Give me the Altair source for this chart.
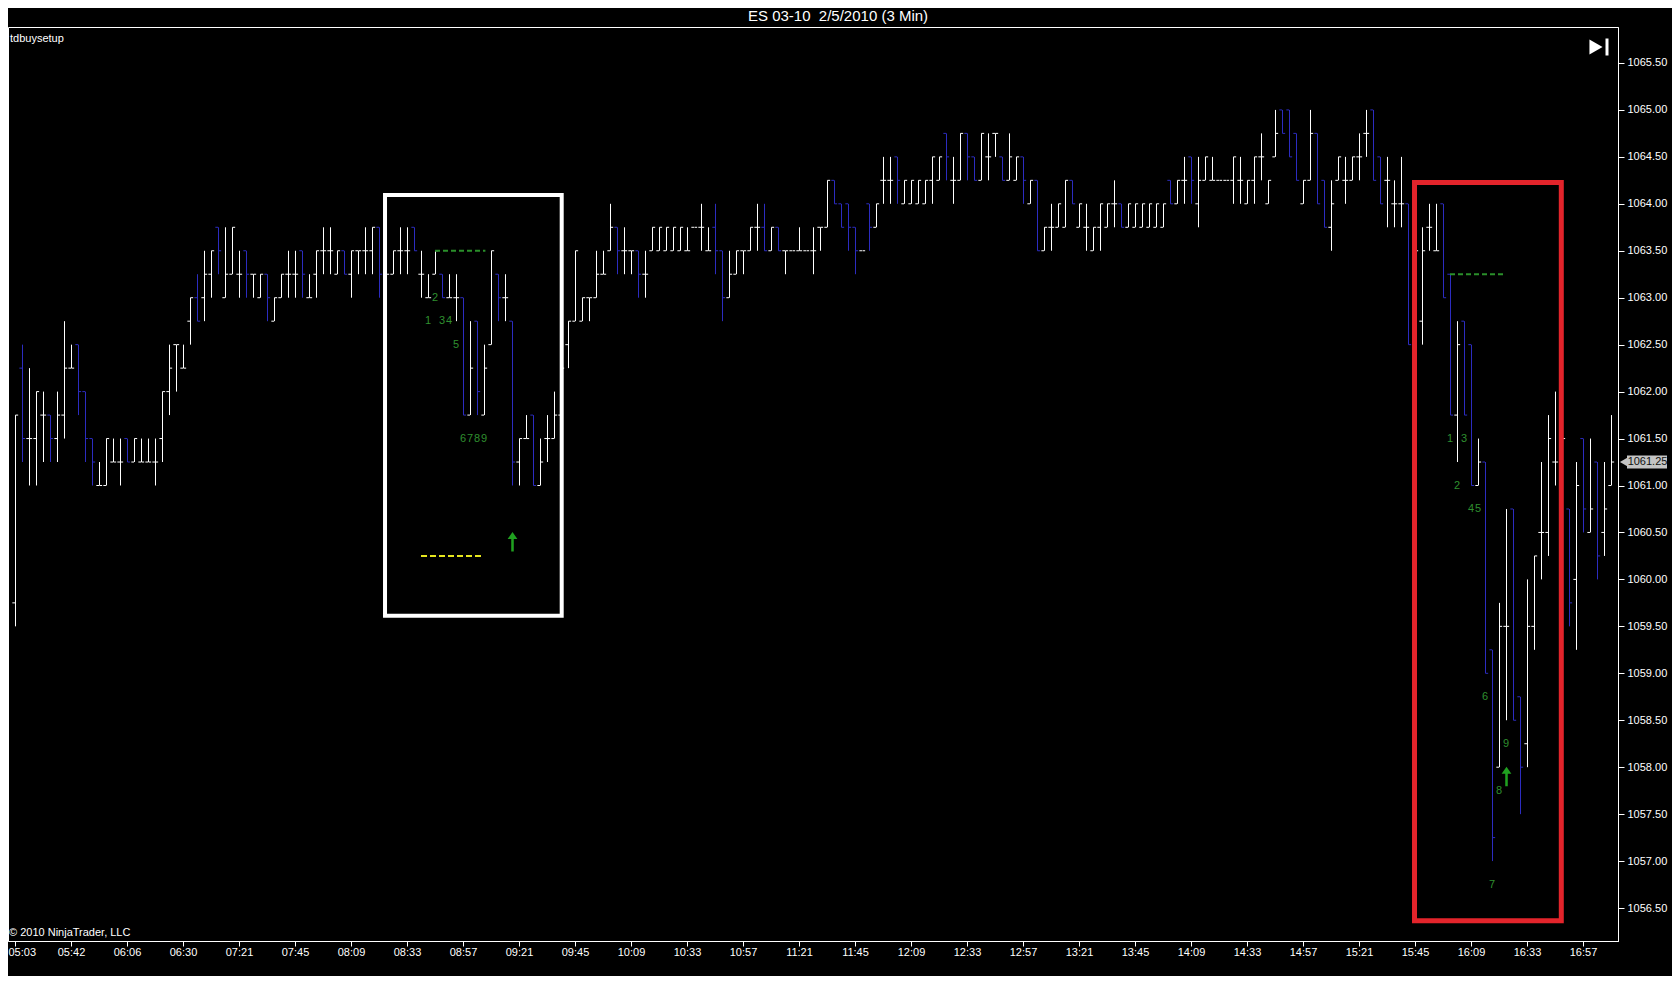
import json
import numpy as np
import pandas as pd
import altair as alt

# ---------------- data ----------------
opens = [
 1059.75,1062.25,1061.5,1061.5,1061.75,1061.75,1061.5,1061.75,1062.25,1062.5,
 1062.0,1061.5,1061.0,1061.0,1061.25,1061.25,1061.5,1061.25,1061.25,1061.25,
 1061.25,1061.5,1062.0,1062.5,1062.25,1062.75,1063.0,1063.0,1063.25,1063.75,
 1063.0,1063.25,1063.25,1063.5,1063.25,1063.0,1063.25,1062.75,1063.0,1063.25,
 1063.25,1063.5,1063.0,1063.25,1063.5,1063.5,1063.25,1063.5,1063.25,1063.5,
 1063.5,1063.5,1063.75,1063.25,1063.25,1063.5,1063.5,1063.75,1063.25,1063.0,
 1063.25,1063.25,1063.0,1063.0,1063.0,1061.75,1062.75,1061.75,1062.5,1063.25,
 1063.0,1062.75,1061.25,1061.5,1061.75,1061.0,1061.5,1061.5,1061.75,1062.5,
 1062.75,1062.75,1063.0,1063.0,1063.25,1063.5,1063.75,1063.5,1063.5,1063.5,
 1063.25,1063.5,1063.5,1063.5,1063.5,1063.5,1063.5,1063.75,1063.75,1063.5,
 1063.75,1063.5,1063.0,1063.25,1063.5,1063.5,1063.75,1063.75,1063.5,1063.75,
 1063.5,1063.5,1063.5,1063.5,1063.5,1063.75,1063.75,1064.25,1064.0,1064.0,
 1063.75,1063.5,1064.0,1063.75,1064.25,1064.25,1064.5,1064.0,1064.0,1064.0,
 1064.0,1064.25,1064.25,1064.75,1064.25,1064.25,1064.75,1064.5,1064.25,1064.5,
 1064.75,1064.5,1064.25,1064.25,1064.5,1064.0,1064.25,1063.5,1063.75,1063.75,
 1063.75,1064.25,1063.75,1063.75,1063.5,1063.75,1063.75,1064.0,1064.0,1063.75,
 1063.75,1063.75,1063.75,1063.75,1063.75,1064.25,1064.0,1064.25,1064.5,1064.0,
 1064.25,1064.25,1064.25,1064.25,1064.25,1064.25,1064.0,1064.25,1064.5,1064.0,
 1064.5,1065.0,1065.0,1064.75,1064.0,1064.25,1064.75,1064.25,1063.75,1064.25,
 1064.25,1064.25,1064.5,1064.75,1065.0,1064.5,1064.25,1064.0,1064.0,1064.0,
 1062.75,1062.75,1063.75,1063.5,1064.0,1063.25,1061.75,1062.75,1062.5,1061.0,
 1061.25,1059.25,1058.0,1059.5,1060.75,1058.75,1058.25,1059.5,1060.5,1060.5,
 1061.25,1061.0,1060.75,1060.0,1061.5,1060.5,1061.25,1060.5,1061.0]
highs = [
 1061.75,1062.5,1062.25,1062.0,1062.0,1061.75,1062.0,1062.75,1062.5,1062.5,
 1062.0,1061.5,1061.25,1061.5,1061.5,1061.5,1061.5,1061.5,1061.5,1061.5,
 1061.5,1062.0,1062.5,1062.5,1062.5,1063.0,1063.25,1063.5,1063.5,1063.75,
 1063.75,1063.75,1063.5,1063.5,1063.25,1063.25,1063.25,1063.0,1063.25,1063.5,
 1063.5,1063.5,1063.25,1063.5,1063.75,1063.75,1063.5,1063.5,1063.5,1063.5,
 1063.75,1063.75,1063.75,1063.5,1063.5,1063.75,1063.75,1063.75,1063.5,1063.25,
 1063.5,1063.25,1063.25,1063.25,1063.0,1062.75,1062.75,1062.5,1063.5,1063.25,
 1063.25,1062.75,1061.5,1061.75,1061.75,1061.5,1061.75,1062.0,1062.25,1062.75,
 1063.5,1063.0,1063.0,1063.5,1063.5,1064.0,1063.75,1063.75,1063.5,1063.5,
 1063.5,1063.75,1063.75,1063.75,1063.75,1063.75,1063.75,1063.75,1064.0,1063.75,
 1064.0,1063.5,1063.5,1063.5,1063.5,1063.75,1064.0,1064.0,1063.75,1063.75,
 1063.5,1063.5,1063.75,1063.5,1063.75,1063.75,1064.25,1064.25,1064.0,1064.0,
 1063.75,1063.5,1064.0,1064.0,1064.5,1064.5,1064.5,1064.25,1064.25,1064.25,
 1064.25,1064.5,1064.5,1064.75,1064.5,1064.75,1064.75,1064.5,1064.75,1064.75,
 1064.75,1064.5,1064.75,1064.5,1064.5,1064.25,1064.25,1063.75,1064.0,1064.0,
 1064.25,1064.25,1064.0,1064.0,1063.75,1064.0,1064.0,1064.25,1064.0,1064.0,
 1064.0,1064.0,1064.0,1064.0,1064.0,1064.25,1064.25,1064.5,1064.5,1064.5,
 1064.5,1064.5,1064.25,1064.25,1064.5,1064.5,1064.25,1064.5,1064.75,1064.25,
 1065.0,1065.0,1065.0,1064.75,1064.25,1065.0,1064.75,1064.25,1064.25,1064.5,
 1064.5,1064.5,1064.75,1065.0,1065.0,1064.5,1064.5,1064.25,1064.5,1064.0,
 1063.75,1063.75,1064.0,1064.0,1064.0,1063.25,1062.75,1062.75,1062.5,1061.5,
 1061.25,1059.25,1059.75,1060.75,1060.75,1058.75,1060.0,1060.25,1061.25,1061.75,
 1062.0,1061.75,1060.75,1061.25,1061.5,1061.5,1061.25,1061.25,1061.75]
lows = [
 1059.5,1061.25,1061.0,1061.0,1061.25,1061.25,1061.25,1061.5,1062.25,1061.75,
 1061.25,1061.0,1061.0,1061.0,1061.25,1061.0,1061.25,1061.25,1061.25,1061.25,
 1061.0,1061.25,1061.75,1062.0,1062.25,1062.5,1062.75,1062.75,1063.0,1063.25,
 1063.0,1063.25,1063.0,1063.0,1063.0,1063.0,1062.75,1062.75,1063.0,1063.0,
 1063.0,1063.0,1063.0,1063.0,1063.25,1063.25,1063.25,1063.25,1063.0,1063.25,
 1063.25,1063.25,1063.0,1063.0,1063.25,1063.25,1063.25,1063.5,1063.0,1063.0,
 1063.25,1063.0,1063.0,1062.75,1061.75,1061.75,1061.75,1061.75,1062.5,1062.75,
 1062.75,1061.0,1061.0,1061.5,1061.0,1061.0,1061.25,1061.5,1061.75,1062.25,
 1062.75,1062.75,1062.75,1063.0,1063.25,1063.5,1063.25,1063.25,1063.25,1063.0,
 1063.0,1063.5,1063.5,1063.5,1063.5,1063.5,1063.5,1063.75,1063.5,1063.5,
 1063.25,1062.75,1063.0,1063.25,1063.25,1063.5,1063.5,1063.5,1063.5,1063.5,
 1063.25,1063.5,1063.5,1063.5,1063.25,1063.5,1063.75,1064.0,1063.75,1063.5,
 1063.25,1063.5,1063.5,1063.75,1064.0,1064.0,1064.0,1064.0,1064.0,1064.0,
 1064.0,1064.0,1064.25,1064.25,1064.0,1064.25,1064.25,1064.25,1064.25,1064.25,
 1064.5,1064.25,1064.25,1064.25,1064.0,1064.0,1063.5,1063.5,1063.5,1063.75,
 1063.75,1064.0,1063.75,1063.5,1063.5,1063.5,1063.75,1063.75,1063.75,1063.75,
 1063.75,1063.75,1063.75,1063.75,1063.75,1064.0,1064.0,1064.0,1064.0,1063.75,
 1064.25,1064.25,1064.25,1064.25,1064.0,1064.0,1064.0,1064.0,1064.25,1064.0,
 1064.5,1064.75,1064.5,1064.25,1064.0,1064.25,1064.0,1063.75,1063.5,1064.25,
 1064.0,1064.25,1064.25,1064.5,1064.25,1064.0,1063.75,1063.75,1063.75,1062.5,
 1062.5,1062.5,1063.5,1063.5,1063.0,1061.75,1061.25,1061.75,1061.0,1061.0,
 1059.0,1057.0,1058.0,1058.5,1058.5,1057.5,1058.0,1059.25,1060.0,1060.25,
 1061.0,1060.75,1059.5,1059.25,1060.5,1060.5,1060.0,1060.25,1061.0]
closes = [
 1061.75,1061.5,1061.5,1062.0,1061.75,1061.5,1061.75,1062.25,1062.25,1062.0,
 1061.5,1061.25,1061.0,1061.5,1061.25,1061.25,1061.25,1061.5,1061.25,1061.25,
 1061.25,1062.0,1062.25,1062.5,1062.25,1063.0,1062.75,1063.25,1063.5,1063.5,
 1063.25,1063.75,1063.25,1063.25,1063.25,1063.25,1063.0,1063.0,1063.25,1063.25,
 1063.25,1063.25,1063.0,1063.5,1063.5,1063.5,1063.5,1063.25,1063.5,1063.5,
 1063.5,1063.75,1063.25,1063.25,1063.5,1063.5,1063.5,1063.5,1063.25,1063.0,
 1063.5,1063.0,1063.0,1063.0,1061.75,1062.25,1062.0,1062.25,1063.5,1063.0,
 1063.0,1061.25,1061.5,1061.5,1061.0,1061.25,1061.5,1061.75,1062.25,1062.75,
 1063.5,1063.0,1063.0,1063.25,1063.25,1063.75,1063.5,1063.5,1063.5,1063.25,
 1063.25,1063.75,1063.75,1063.75,1063.75,1063.75,1063.5,1063.75,1063.75,1063.5,
 1063.5,1063.0,1063.25,1063.5,1063.5,1063.75,1063.75,1063.5,1063.75,1063.5,
 1063.5,1063.5,1063.5,1063.5,1063.5,1063.75,1064.25,1064.0,1063.75,1063.75,
 1063.5,1063.5,1063.75,1064.0,1064.25,1064.25,1064.25,1064.25,1064.25,1064.25,
 1064.25,1064.5,1064.5,1064.5,1064.25,1064.75,1064.5,1064.25,1064.75,1064.5,
 1064.75,1064.25,1064.5,1064.5,1064.25,1064.25,1063.5,1063.75,1063.75,1064.0,
 1064.25,1064.0,1064.0,1063.75,1063.75,1064.0,1064.0,1064.0,1063.75,1064.0,
 1064.0,1064.0,1064.0,1064.0,1064.0,1064.0,1064.25,1064.25,1064.25,1064.25,
 1064.5,1064.25,1064.25,1064.25,1064.5,1064.25,1064.25,1064.5,1064.5,1064.25,
 1064.75,1064.75,1064.5,1064.25,1064.25,1064.75,1064.0,1063.75,1064.0,1064.5,
 1064.25,1064.5,1064.5,1064.75,1064.25,1064.0,1064.25,1064.0,1064.0,1062.5,
 1063.5,1063.5,1063.75,1063.5,1063.0,1061.75,1062.5,1061.75,1061.0,1061.25,
 1059.0,1057.25,1059.5,1059.5,1058.5,1058.0,1059.5,1060.25,1060.5,1061.5,
 1061.25,1061.5,1059.75,1061.0,1060.75,1060.75,1060.25,1060.75,1061.25]

time_labels = ["05:03", "05:42", "06:06", "06:30", "07:21", "07:45", "08:09", "08:33",
               "08:57", "09:21", "09:45", "10:09", "10:33", "10:57", "11:21", "11:45",
               "12:09", "12:33", "12:57", "13:21", "13:45", "14:09", "14:33", "14:57",
               "15:21", "15:45", "16:09", "16:33", "16:57"]
price_ticks = [1056.5, 1057.0, 1057.5, 1058.0, 1058.5, 1059.0, 1059.5, 1060.0, 1060.5,
               1061.0, 1061.5, 1062.0, 1062.5, 1063.0, 1063.5, 1064.0, 1064.5, 1065.0, 1065.5]

# TD buy setup counts (bar index -> label)
setup_bars = [59, 60, 61, 62, 63, 64, 65, 66, 67, 205, 206, 207, 208, 209, 210, 211, 212, 213]
setup_labels = ["1", "2", "3", "4", "5", "6", "7", "8", "9",
                "1", "2", "3", "4", "5", "6", "7", "8", "9"]
arrow_bars = [71, 213]
# TDST (green) and yellow dashed levels: start bar, end bar, price
tdst_start = [60, 205]
tdst_end = [67.2, 212.6]
tdst_price = [1063.5, 1063.25]
yellow_start = [58]
yellow_end = [67]
yellow_price = [1060.25]
# drawn boxes: bar range and price range
white_box = {"b1": 52.86, "b2": 78.1, "p1": 1064.094, "p2": 1059.613}
red_box = {"b1": 199.93, "b2": 220.9, "p1": 1064.227, "p2": 1056.365}

title_text = "ES 03-10\u00a0 2/5/2010 (3 Min)"

# ---------------- build ----------------
n = len(opens)
df = pd.DataFrame({"bar": np.arange(n), "open": opens, "high": highs,
                   "low": lows, "close": closes})
df["dir"] = np.where(df["close"] < df["open"], "down", "up")

FONT = "Liberation Sans, Arial, sans-serif"
W, H = 1610, 914
xs = alt.Scale(domain=[-1, 229], nice=False, zero=False)
ys = alt.Scale(domain=[1056.149, 1065.883], nice=False, zero=False)
cs = alt.Scale(domain=["up", "down"], range=["#ffffff", "#2c2cc0"])

label_expr = json.dumps(time_labels) + "[round(datum.value / 8)]"
x_axis = alt.Axis(values=list(range(0, 8 * len(time_labels), 8)), labelExpr=label_expr,
                  title=None, grid=False, tickSize=5, labelPadding=0, labelAngle=0,
                  labelAlign={"condition": {"test": "datum.value == 0", "value": "left"},
                              "value": "center"},
                  labelOffset={"condition": {"test": "datum.value == 0", "value": -7},
                               "value": 0},
                  labelFlush=False, labelOverlap=False, domainColor="#ffffff",
                  tickColor="#ffffff", labelColor="#ffffff", labelFont=FONT,
                  labelFontSize=11)
y_axis = alt.Axis(orient="right", values=price_ticks, format=".2f", title=None,
                  grid=False, tickSize=6, labelPadding=3, domainColor="#ffffff",
                  tickColor="#ffffff", labelColor="#ffffff", labelFont=FONT,
                  labelFontSize=11, labelOverlap=False, labelFlush=False)

base = alt.Chart(df)
wick = base.mark_rule(strokeWidth=1, xOffset=0.5).encode(
    x=alt.X("bar:Q", scale=xs, axis=x_axis),
    y=alt.Y("low:Q", scale=ys, axis=y_axis),
    y2="high:Q",
    color=alt.Color("dir:N", scale=cs, legend=None),
)
open_tick = base.transform_calculate(xl="datum.bar - 0.45").mark_rule(
    strokeWidth=1, xOffset=0.5).encode(
    x=alt.X("xl:Q", scale=xs), x2="bar:Q", y=alt.Y("open:Q", scale=ys),
    color=alt.Color("dir:N", scale=cs, legend=None))
close_tick = base.transform_calculate(xr="datum.bar + 0.45").mark_rule(
    strokeWidth=1, xOffset=0.5).encode(
    x=alt.X("bar:Q", scale=xs), x2="xr:Q", y=alt.Y("close:Q", scale=ys),
    color=alt.Color("dir:N", scale=cs, legend=None))

low_by_bar = dict(zip(df["bar"], df["low"]))
cnt = pd.DataFrame({"bar": setup_bars, "label": setup_labels})
cnt["y"] = [low_by_bar[b] - 0.25 for b in setup_bars]
counts = alt.Chart(cnt).mark_text(font=FONT, fontSize=11, color="#2f8f2f",
                                  baseline="middle", align="center").encode(
    x=alt.X("bar:Q", scale=xs), y=alt.Y("y:Q", scale=ys), text="label:N")

arr = pd.DataFrame({"bar": arrow_bars})
arr["y"] = [low_by_bar[b] - 0.6 for b in arrow_bars]
arrow_path = "M0,-1L0.5,-0.3L0.13,-0.3L0.13,1L-0.13,1L-0.13,-0.3L-0.5,-0.3Z"
arrows = alt.Chart(arr).mark_point(shape=arrow_path, size=380, filled=True,
                                   color="#20a020", opacity=1, xOffset=0.5).encode(
    x=alt.X("bar:Q", scale=xs), y=alt.Y("y:Q", scale=ys))

tdst = pd.DataFrame({"b1": tdst_start, "b2": tdst_end, "p": tdst_price})
tdst_lines = alt.Chart(tdst).mark_rule(color="#2a8f2a", strokeWidth=2,
                                       strokeDash=[5, 3]).encode(
    x=alt.X("b1:Q", scale=xs), x2="b2:Q", y=alt.Y("p:Q", scale=ys))
yel = pd.DataFrame({"b1": yellow_start, "b2": yellow_end, "p": yellow_price})
yel_lines = alt.Chart(yel).mark_rule(color="#e6e61e", strokeWidth=2,
                                     strokeDash=[6, 3]).encode(
    x=alt.X("b1:Q", scale=xs), x2="b2:Q", y=alt.Y("p:Q", scale=ys))

wb = alt.Chart(pd.DataFrame([white_box])).mark_rect(
    filled=False, stroke="#ffffff", strokeWidth=4).encode(
    x=alt.X("b1:Q", scale=xs), x2="b2:Q", y=alt.Y("p1:Q", scale=ys), y2="p2:Q")
rb = alt.Chart(pd.DataFrame([red_box])).mark_rect(
    filled=False, stroke="#e3242b", strokeWidth=5).encode(
    x=alt.X("b1:Q", scale=xs), x2="b2:Q", y=alt.Y("p1:Q", scale=ys), y2="p2:Q")

# last price tag on the right axis
last = pd.DataFrame({"p": [closes[-1]], "t": [f"{closes[-1]:.2f}"]})
last["p_hi"] = last["p"] + 0.07
last["p_lo"] = last["p"] - 0.07
tag_box = alt.Chart(last).mark_rect(color="#c4c4c4").encode(
    x=alt.value(1619), x2=alt.value(1659), y=alt.Y("p_hi:Q", scale=ys), y2="p_lo:Q")
tag_tip = alt.Chart(last).mark_point(shape="triangle-left", size=90, filled=True,
                                     color="#c4c4c4", opacity=1).encode(
    x=alt.value(1616), y=alt.Y("p:Q", scale=ys))
tag_txt = alt.Chart(last).mark_text(font=FONT, fontSize=11, color="#111111",
                                    align="center", baseline="middle").encode(
    x=alt.value(1639.5), y=alt.Y("p:Q", scale=ys), text="t:N")

# texts and icon in pixel space
txt = pd.DataFrame({"t": [title_text]})
title = alt.Chart(txt).mark_text(font=FONT, fontSize=15, color="#ffffff",
                                 align="center", baseline="middle").encode(
    x=alt.value(830), y=alt.value(-11), text="t:N")
ind = alt.Chart(pd.DataFrame({"t": ["tdbuysetup"]})).mark_text(
    font=FONT, fontSize=11, color="#ffffff", align="left", baseline="middle").encode(
    x=alt.value(2), y=alt.value(12), text="t:N")
copy = alt.Chart(pd.DataFrame({"t": ["\u00a9 2010 NinjaTrader, LLC"]})).mark_text(
    font=FONT, fontSize=11, color="#ffffff", align="left", baseline="middle").encode(
    x=alt.value(1), y=alt.value(906), text="t:N")
icon_tri = alt.Chart(pd.DataFrame({"k": [1]})).mark_point(
    shape="triangle-right", size=230, filled=True, color="#ffffff", opacity=1).encode(
    x=alt.value(1588), y=alt.value(20))
icon_bar = alt.Chart(pd.DataFrame({"k": [1]})).mark_rule(
    color="#ffffff", strokeWidth=3).encode(
    x=alt.value(1599), y=alt.value(11.5), y2=alt.value(28.5))

chart = alt.layer(
    wick, open_tick, close_tick, tdst_lines, yel_lines, counts, arrows, wb, rb,
    tag_box, tag_tip, tag_txt, title, ind, copy, icon_tri, icon_bar
).properties(
    width=W, height=H, autosize="none",
    padding={"left": 0, "top": 19, "right": 54, "bottom": 35},
    background="#000000",
).configure_view(stroke="#ffffff", strokeWidth=1)

chart.save("out.html", embed_options={"renderer": "svg", "actions": False})
